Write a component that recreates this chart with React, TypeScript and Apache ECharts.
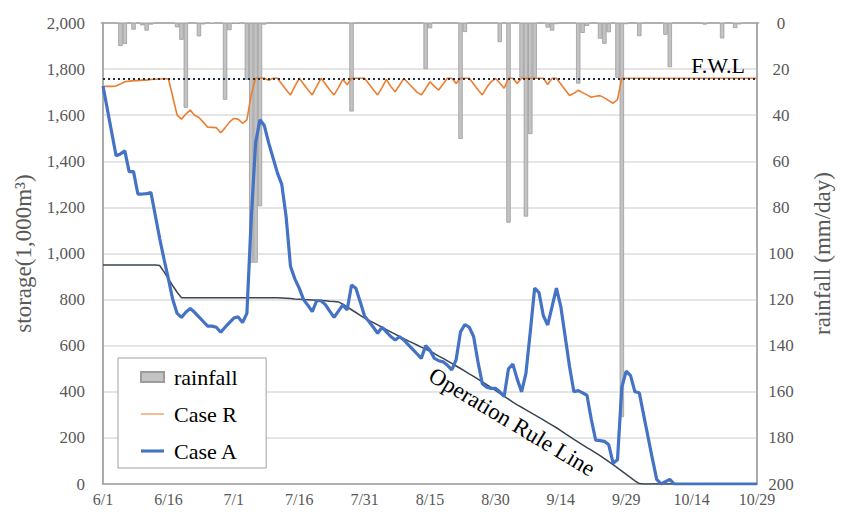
import React, { useEffect, useRef } from 'react';
import * as echarts from 'echarts';

// ---- categories (daily, 6/1 .. 10/29) ----
const monthLengths: [string, number][] = [['6', 30], ['7', 31], ['8', 31], ['9', 30], ['10', 29]];
const dates: string[] = [];
for (const [m, n] of monthLengths) for (let d = 1; d <= n; d++) dates.push(`${m}/${d}`);

// ---- rainfall (mm/day), one per day ----
const rainfall: number[] = [
  0, 0, 0, 0, 10.0, 9.1, 0, 2.9, 0, 1.0,
  3.3, 0.7, 0, 0, 0, 0, 0, 1.9, 7.3, 36.8,
  0, 0, 5.8, 0.6, 0, 0.4, 0, 0, 33.3, 3.1,
  0.3, 0.3, 0, 24.6, 104, 104, 79.5, 0.7, 0, 0,
  0, 0, 0, 0, 0, 0, 0, 0, 0, 0,
  0, 0, 0, 0, 0, 0, 0, 38.4, 0, 0,
  0, 0, 0, 0, 0, 0, 0, 0, 0, 0,
  0, 0, 0, 0, 20, 2.3, 0, 0, 0, 0,
  0, 0, 50.3, 3.9, 0, 0, 0, 0, 0, 0,
  0, 8.3, 0, 86.6, 0, 0, 23.7, 84, 48.2, 23.8,
  0, 0, 2.0, 3.3, 0.5, 0, 0, 0, 0, 26.3,
  4.3, 1.3, 0, 0, 6.8, 9.0, 4.0, 0, 23.8, 171,
  0.5, 0, 0, 5.7, 0, 0, 0, 0, 0, 5.1,
  19.2, 0, 0, 0, 0, 0, 0, 0, 0.7, 0,
  0, 0, 6.7, 0, 0, 2.2, 0.6, 0, 0, 0,
  0,
];

// ---- Case R storage (1,000 m3) ----
const caseR: number[] = [
  1725, 1725, 1725, 1727, 1735, 1745, 1748, 1750, 1750, 1752,
  1752, 1755, 1756, 1757, 1758, 1758, 1680, 1600, 1583, 1605,
  1622, 1600, 1590, 1570, 1548, 1547, 1546, 1524, 1545, 1570,
  1586, 1583, 1565, 1580, 1690, 1760, 1760, 1760, 1752, 1760,
  1760, 1735, 1710, 1688, 1725, 1760, 1735, 1710, 1688, 1725,
  1760, 1735, 1710, 1688, 1720, 1755, 1732, 1760, 1760, 1760,
  1760, 1735, 1710, 1688, 1720, 1755, 1725, 1702, 1730, 1760,
  1740, 1720, 1700, 1688, 1715, 1745, 1725, 1709, 1735, 1760,
  1760, 1738, 1760, 1760, 1760, 1735, 1710, 1688, 1720, 1745,
  1760, 1740, 1717, 1760, 1760, 1738, 1760, 1760, 1760, 1760,
  1760, 1760, 1733, 1760, 1760, 1735, 1710, 1685, 1695, 1708,
  1698, 1688, 1678, 1682, 1685, 1675, 1663, 1652, 1668, 1760,
  1760, 1760, 1760, 1760, 1760, 1760, 1760, 1760, 1760, 1760,
  1760, 1760, 1760, 1760, 1760, 1760, 1760, 1760, 1760, 1760,
  1760, 1760, 1760, 1760, 1760, 1760, 1760, 1760, 1760, 1760,
  1760,
];

// ---- Case A storage (1,000 m3) ----
const caseA: number[] = [
  1727, 1626, 1525, 1424, 1432, 1445, 1355, 1355, 1258, 1258,
  1260, 1264, 1165, 1065, 975, 890, 800, 740, 723, 745,
  762, 745, 725, 705, 685, 685, 680, 658, 680, 700,
  720, 725, 700, 740, 1150, 1480, 1580, 1555, 1480, 1415,
  1350, 1300, 1160, 945, 890, 850, 800, 775, 748, 795,
  795, 778, 750, 723, 750, 777, 755, 863, 849, 790,
  728, 705, 680, 654, 680, 660, 640, 625, 639, 625,
  605, 585, 565, 545, 600, 580, 545, 535, 530, 515,
  495, 540, 660, 692, 680, 640, 530, 435, 420, 415,
  415, 400, 380, 500, 520, 455, 400, 480, 660, 850,
  830, 730, 690, 770, 850, 770, 640, 510, 400, 405,
  395, 385, 280, 190, 188, 185, 170, 90, 105, 420,
  490, 470, 400, 396, 300, 205, 110, 20, 0, 10,
  20, 0, 0, 0, 0, 0, 0, 0, 0, 0,
  0, 0, 0, 0, 0, 0, 0, 0, 0, 0,
  0,
];

// ---- Operation Rule Line (1,000 m3) ----
const ruleLine: number[] = [
  950, 950, 950, 950, 950, 950, 950, 950, 950, 950,
  950, 950, 950, 948, 920, 890, 860, 832, 808, 808,
  808, 808, 808, 808, 808, 808, 808, 808, 808, 808,
  808, 808, 808, 808, 808, 808, 808, 808, 808, 808,
  808, 807, 806, 805, 803, 802, 800, 799, 798, 797,
  796, 795, 793, 792, 790, 780, 768, 756, 744, 732,
  720, 710, 700, 690, 680, 670, 660, 650, 640, 630,
  621, 612, 603, 594, 585, 576, 566, 555, 545, 534,
  523, 512, 501, 490, 478, 467, 455, 443, 431, 419,
  406, 393, 380, 368, 355, 343, 333, 322, 311, 300,
  289, 278, 266, 255, 244, 232, 219, 207, 194, 182,
  170, 158, 147, 135, 123, 110, 97, 84, 70, 56,
  42, 28, 14, 2, 0, 0, 0, 0, 0, 0,
  0, 0, 0, 0, 0, 0, 0, 0, 0, 0,
  0, 0, 0, 0, 0, 0, 0, 0, 0, 0,
  0,
];

const FWL = 1760;
const FWL_LABEL = 'F.W.L';
const RULE_LABEL = 'Operation Rule Line';
const leftAxisName = 'storage(1,000m³)';
const rightAxisName = 'rainfall (mm/day)';

const SERIF = "'Times New Roman', 'Liberation Serif', serif";
const AXIS_GREY = '#a6a6a6';
const LABEL_GREY = '#595959';

export default function App() {
  const ref = useRef<HTMLDivElement>(null);
  useEffect(() => {
    if (!ref.current) return;
    const chart = echarts.init(ref.current, undefined, { renderer: 'svg' });
    chart.setOption({
      animation: false,
      backgroundColor: '#ffffff',
      grid: {
        left: 103, right: 86, top: 23, bottom: 30,
        show: true, borderColor: AXIS_GREY, borderWidth: 1.5, backgroundColor: 'transparent',
      },
      legend: {
        data: [
          { name: 'rainfall', icon: 'rect' },
          { name: 'Case R', icon: 'path://M0,0H40V1.8H0Z' },
          { name: 'Case A', icon: 'path://M0,0H40V5.4H0Z' },
        ],
        orient: 'vertical',
        left: 118, top: 358,
        itemWidth: 23, itemHeight: 10, itemGap: 13,
        symbolKeepAspect: true,
        padding: [7, 28, 5, 22],
        backgroundColor: '#ffffff', borderColor: '#a0a0a0', borderWidth: 1,
        textStyle: { fontSize: 22, fontFamily: SERIF, color: '#000', lineHeight: 24, padding: [0, 0, 0, 5] },
        selectedMode: false,
      },
      xAxis: {
        type: 'category',
        data: dates,
        boundaryGap: false,
        axisLine: { show: true, lineStyle: { color: AXIS_GREY, width: 1.5 } },
        axisTick: { show: false },
        axisLabel: { interval: 14, fontSize: 16, fontFamily: SERIF, color: LABEL_GREY, margin: 7 },
        splitLine: { show: false },
      },
      yAxis: [
        {
          type: 'value', min: 0, max: 2000, interval: 200,
          name: leftAxisName, nameLocation: 'middle', nameGap: 68,
          nameTextStyle: { fontSize: 23, fontFamily: SERIF, color: LABEL_GREY },
          axisLine: { show: true, lineStyle: { color: AXIS_GREY, width: 1.5 } },
          axisTick: { show: false },
          axisLabel: {
            fontSize: 17, fontFamily: SERIF, color: LABEL_GREY, margin: 18,
            formatter: (v: number) => v.toLocaleString('en-US'),
          },
          splitLine: { show: true, lineStyle: { color: '#dcdcdc', width: 1.5 } },
        },
        {
          type: 'value', min: 0, max: 200, interval: 20, inverse: true,
          name: rightAxisName, nameLocation: 'middle', nameGap: 54,
          nameTextStyle: { fontSize: 23, fontFamily: SERIF, color: LABEL_GREY },
          axisLine: { show: true, lineStyle: { color: AXIS_GREY, width: 1.5 } },
          axisTick: { show: false },
          axisLabel: { fontSize: 17, fontFamily: SERIF, color: LABEL_GREY, margin: 24, align: 'center' },
          splitLine: { show: false },
        },
      ],
      graphic: [
        {
          type: 'text', x: 512, y: 422, rotation: -0.54, z: 50,
          style: { text: RULE_LABEL, fontSize: 23, fontFamily: SERIF, fill: '#000', align: 'center', verticalAlign: 'middle' },
        },
      ],
      series: [
        {
          name: 'rainfall', type: 'bar', yAxisIndex: 1, data: rainfall,
          barWidth: 4.4, z: 1,
          itemStyle: { color: '#c3c3c3', borderColor: '#9c9c9c', borderWidth: 0.8 },
        },
        {
          name: 'Operation Rule Line', type: 'line', yAxisIndex: 0, data: ruleLine,
          symbol: 'none', z: 2,
          lineStyle: { color: '#3a4454', width: 1.5 },
        },
        {
          name: 'Case R', type: 'line', yAxisIndex: 0, data: caseR,
          symbol: 'none', z: 3,
          itemStyle: { color: '#ED7D31' },
          lineStyle: { color: '#ED7D31', width: 1.6 },
        },
        {
          name: 'Case A', type: 'line', yAxisIndex: 0, data: caseA,
          symbol: 'none', z: 4,
          itemStyle: { color: '#4472C4' },
          lineStyle: { color: '#4472C4', width: 3.2 },
        },
        {
          name: 'FWL', type: 'line', yAxisIndex: 0, data: [], z: 5,
          markLine: {
            silent: true, symbol: 'none',
            data: [{ yAxis: FWL }],
            lineStyle: { type: [2, 3], color: '#1f2d45', width: 2 },
            label: {
              show: true, position: 'insideEndTop', formatter: FWL_LABEL,
              fontSize: 22, fontFamily: SERIF, color: '#000', distance: [12, 2],
            },
          },
        },
      ],
    });
    return () => chart.dispose();
  }, []);
  return <div ref={ref} style={{ position: 'absolute', left: 0, top: 0, width: 843, height: 514 }} />;
}
